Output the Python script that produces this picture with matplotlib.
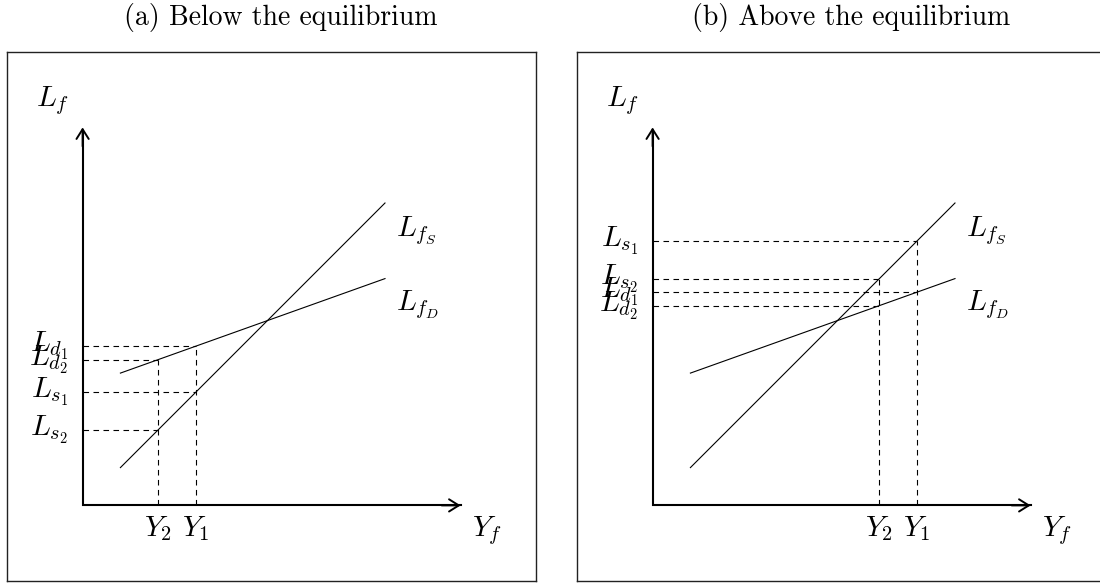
import numpy as np
import matplotlib.pyplot as plt

plt.rcParams['mathtext.fontset'] = 'cm'

# labour supply / demand schedules (same in both panels)
supply_x = [1, 8]
supply_y = [1, 8]
demand_x = [1, 8]
demand_y = [3.5, 6]

# output levels marked on the horizontal axis
panel_titles = ['(a) Below the equilibrium', '(b) Above the equilibrium']
y1_vals = [3, 7]
y2_vals = [2, 6]

W, H = 1100, 583
fig = plt.figure(figsize=(W / 100, H / 100), dpi=100)

# frames are 14x14 units, 1 unit = 37.8 px
unit = 37.8
frame_left = [7, 577]
title_x = [281, 851]

for k in range(2):
    ax = fig.add_axes([frame_left[k] / W, 2 / H, 14 * unit / W, 14 * unit / H])
    ax.set_xlim(-2, 12)
    ax.set_ylim(-2, 12)
    ax.set_xticks([])
    ax.set_yticks([])
    for s in ax.spines.values():
        s.set_linewidth(1.0)
        s.set_color('#222222')

    # axes with arrowheads
    ax.plot([0, 0, 10], [9.9, 0, 0], color='black', lw=1.5, solid_joinstyle='miter')
    for tip in [(10, 0), (0, 10)]:
        ax.annotate('', xy=tip, xytext=(tip[0] * 0.95, tip[1] * 0.95),
                    arrowprops=dict(arrowstyle='->,head_length=0.35,head_width=0.22',
                                    lw=1.4, color='black', shrinkA=0, shrinkB=0,
                                    mutation_scale=20))

    ax.plot(supply_x, supply_y, color='black', lw=0.8)
    ax.plot(demand_x, demand_y, color='black', lw=0.8)

    y1, y2 = y1_vals[k], y2_vals[k]
    ls1 = np.interp(y1, supply_x, supply_y)
    ls2 = np.interp(y2, supply_x, supply_y)
    ld1 = np.interp(y1, demand_x, demand_y)
    ld2 = np.interp(y2, demand_x, demand_y)

    dash = dict(color='black', lw=0.8, dashes=(5, 4))
    for yv, lv in [(y1, max(ls1, ld1)), (y2, max(ls2, ld2))]:
        ax.plot([yv, yv], [0, lv], **dash)
    for yv, lv in [(y1, ls1), (y1, ld1), (y2, ls2), (y2, ld2)]:
        ax.plot([0, yv], [lv, lv], **dash)

    fs = 21
    for txt, lv in [(r'$L_{s_1}$', ls1), (r'$L_{s_2}$', ls2),
                    (r'$L_{d_1}$', ld1), (r'$L_{d_2}$', ld2)]:
        ax.text(-0.38, lv, txt, ha='right', va='center', fontsize=fs)
    ax.text(y2, -0.22, r'$Y_2$', ha='center', va='top', fontsize=fs)
    ax.text(y1, -0.22, r'$Y_1$', ha='center', va='top', fontsize=fs)
    ax.text(-0.8, 10.7, r'$L_f$', ha='center', va='center', fontsize=fs)
    ax.text(10.7, -0.66, r'$Y_f$', ha='center', va='center', fontsize=fs)
    ax.text(8.3, 7.28, r'$L_{f_S}$', ha='left', va='center', fontsize=fs)
    ax.text(8.3, 5.32, r'$L_{f_D}$', ha='left', va='center', fontsize=fs)

    fig.text(title_x[k] / W, 1 - 18 / H, panel_titles[k], ha='center', va='center',
             fontsize=20, family='cmr10')

fig.savefig('out.png', dpi=100)
